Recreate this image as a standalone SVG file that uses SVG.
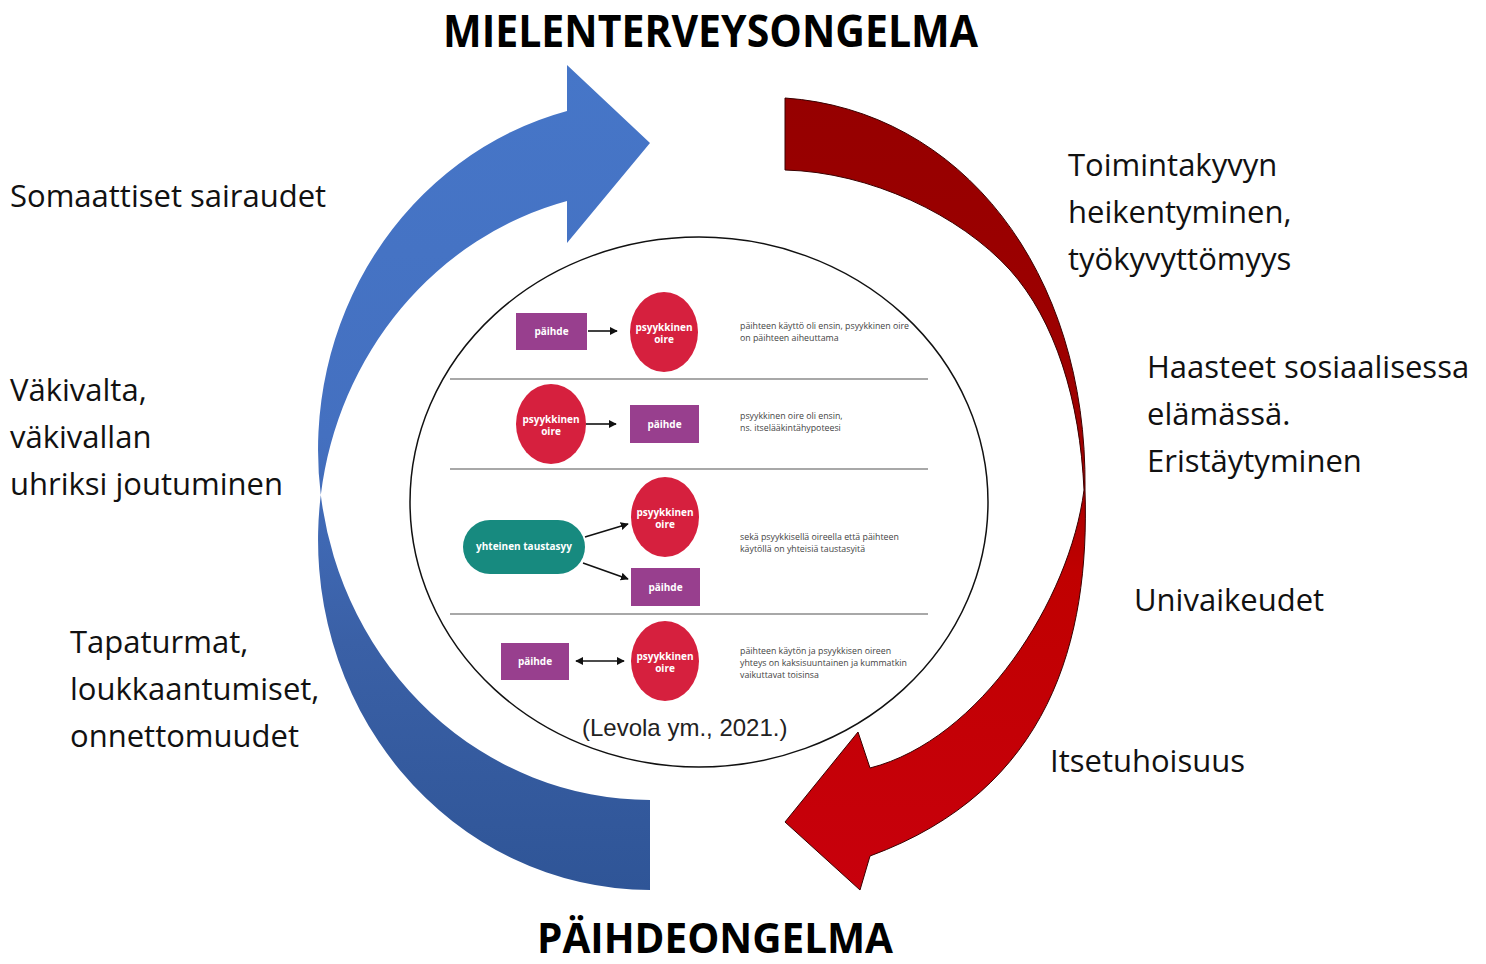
<svg xmlns="http://www.w3.org/2000/svg" width="1486" height="964" viewBox="0 0 1486 964">
<defs>
<linearGradient id="gBlue" gradientUnits="userSpaceOnUse" x1="0" y1="65" x2="0" y2="890">
<stop offset="0" stop-color="#4676c8"/>
<stop offset="0.45" stop-color="#4470c0"/>
<stop offset="0.7" stop-color="#3a60a6"/>
<stop offset="1" stop-color="#2f5597"/>
</linearGradient>
<linearGradient id="gRed" gradientUnits="userSpaceOnUse" x1="0" y1="98" x2="0" y2="890">
<stop offset="0" stop-color="#960000"/>
<stop offset="0.45" stop-color="#a00000"/>
<stop offset="0.6" stop-color="#c00000"/>
<stop offset="1" stop-color="#c8000c"/>
</linearGradient>
<marker id="ah" viewBox="0 0 10 10" refX="9" refY="5" markerWidth="5" markerHeight="5" orient="auto-start-reverse" markerUnits="strokeWidth">
<path d="M0,0 L10,5 L0,10 z" fill="#111"/>
</marker>
<style>
.lbl{font-family:"Open Sans","Noto Sans",sans-serif;font-size:31px;fill:#111;}
.ttl{font-family:"Open Sans","Noto Sans",sans-serif;font-size:44px;font-weight:700;fill:#000;}
.ttl2{font-family:"Open Sans","Noto Sans",sans-serif;font-size:42px;font-weight:700;fill:#000;}
.cite{font-family:"Liberation Sans",Arial,sans-serif;font-size:24px;fill:#222;}
.desc{font-family:"Open Sans","Noto Sans",sans-serif;font-size:8.8px;fill:#444;}
.nt{font-family:"Open Sans","Noto Sans",sans-serif;font-size:10px;font-weight:700;fill:#fff;text-anchor:middle;}
.pur{fill:#983f8e;}
.red{fill:#d6203e;}
.teal{fill:#178a7f;}
.sep{stroke:#a8a8a8;stroke-width:2;}
.cn{stroke:#111;stroke-width:1.6;fill:none;}
</style>
</defs>

<g id="arrow-blue">
<path d="M650,890 A332,350 0 0,1 320.8,495 A332,350 0 0,1 567,111 L567,65 L650,143 L567,243 L567,201 A332,350 0 0,0 320.8,495 A332,350 0 0,0 650,800 Z" fill="url(#gBlue)"/>
</g>
<g id="arrow-red">
<path d="M785,98 C960,110 1088,270 1085,490 C1090,640 1050,790 870,856 L860,890 L785,822 L858,732 L870,768 C980,740 1070,600 1084,490 C1080,400 1055,320 1010,270 C960,215 870,172 785,170 Z" fill="url(#gRed)" stroke="#3a0000" stroke-width="1"/>
</g>

<g id="center-circle">
<ellipse cx="699" cy="502" rx="289" ry="265" fill="#fff" stroke="#111" stroke-width="1.5"/>
<line class="sep" x1="450" y1="379" x2="928" y2="379"/>
<line class="sep" x1="450" y1="469" x2="928" y2="469"/>
<line class="sep" x1="450" y1="614" x2="928" y2="614"/>
</g>

<g id="row1">
<g id="r1-paihde"><rect class="pur" x="516" y="313" width="71" height="37"/><text class="nt" x="551.5" y="335">päihde</text></g>
<g id="r1-oire"><ellipse class="red" cx="664" cy="332" rx="34" ry="40"/><text class="nt" x="664" y="331">psyykkinen</text><text class="nt" x="664" y="343">oire</text></g>
<text class="desc" x="740" y="329">päihteen käyttö oli ensin, psyykkinen oire</text>
<text class="desc" x="740" y="341">on päihteen aiheuttama</text>
</g>
<g id="row2">
<g id="r2-oire"><ellipse class="red" cx="551" cy="424" rx="35" ry="40"/><text class="nt" x="551" y="423">psyykkinen</text><text class="nt" x="551" y="435">oire</text></g>
<g id="r2-paihde"><rect class="pur" x="630" y="405" width="69" height="38"/><text class="nt" x="664.5" y="428">päihde</text></g>
<text class="desc" x="740" y="419">psyykkinen oire oli ensin,</text>
<text class="desc" x="740" y="431">ns. itselääkintähypoteesi</text>
</g>
<g id="row3">
<g id="r3-tausta"><rect class="teal" x="463" y="520" width="122" height="54" rx="27"/><text class="nt" x="524" y="550">yhteinen taustasyy</text></g>
<g id="r3-oire"><ellipse class="red" cx="665" cy="517" rx="34" ry="40"/><text class="nt" x="665" y="516">psyykkinen</text><text class="nt" x="665" y="528">oire</text></g>
<g id="r3-paihde"><rect class="pur" x="631" y="568" width="69" height="38"/><text class="nt" x="665.5" y="591">päihde</text></g>
<text class="desc" x="740" y="540">sekä psyykkisellä oireella että päihteen</text>
<text class="desc" x="740" y="552">käytöllä on yhteisiä taustasyitä</text>
</g>
<g id="row4">
<g id="r4-paihde"><rect class="pur" x="501" y="643" width="68" height="37"/><text class="nt" x="535" y="665">päihde</text></g>
<g id="r4-oire"><ellipse class="red" cx="665" cy="661" rx="34" ry="40"/><text class="nt" x="665" y="660">psyykkinen</text><text class="nt" x="665" y="672">oire</text></g>
<text class="desc" x="740" y="654">päihteen käytön ja psyykkisen oireen</text>
<text class="desc" x="740" y="666">yhteys on kaksisuuntainen ja kummatkin</text>
<text class="desc" x="740" y="678">vaikuttavat toisinsa</text>
</g>

<g id="connectors">
<line class="cn" x1="588" y1="331" x2="617" y2="331" marker-end="url(#ah)"/>
<line class="cn" x1="586" y1="424" x2="616" y2="424" marker-end="url(#ah)"/>
<line class="cn" x1="585" y1="537" x2="628" y2="524" marker-end="url(#ah)"/>
<line class="cn" x1="583" y1="563" x2="628" y2="579" marker-end="url(#ah)"/>
<line class="cn" x1="576" y1="661" x2="624" y2="661" marker-start="url(#ah)" marker-end="url(#ah)"/>
</g>

<g id="citation"><text class="cite" x="582" y="736">(Levola ym., 2021.)</text></g>

<g id="title-top"><text class="ttl" x="443" y="47" textLength="535" lengthAdjust="spacingAndGlyphs">MIELENTERVEYSONGELMA</text></g>
<g id="title-bottom"><text class="ttl2" x="537" y="953" textLength="356" lengthAdjust="spacingAndGlyphs">PÄIHDEONGELMA</text></g>

<g id="label-somaattiset"><text class="lbl" x="10" y="207">Somaattiset sairaudet</text></g>
<g id="label-vakivalta"><text class="lbl" x="10" y="401">Väkivalta,</text><text class="lbl" x="10" y="448">väkivallan</text><text class="lbl" x="10" y="495">uhriksi joutuminen</text></g>
<g id="label-tapaturmat"><text class="lbl" x="70" y="653">Tapaturmat,</text><text class="lbl" x="70" y="700">loukkaantumiset,</text><text class="lbl" x="70" y="747">onnettomuudet</text></g>
<g id="label-toimintakyky"><text class="lbl" x="1068" y="176">Toimintakyvyn</text><text class="lbl" x="1068" y="223">heikentyminen,</text><text class="lbl" x="1068" y="270">työkyvyttömyys</text></g>
<g id="label-haasteet"><text class="lbl" x="1147" y="378">Haasteet sosiaalisessa</text><text class="lbl" x="1147" y="425">elämässä.</text><text class="lbl" x="1147" y="472">Eristäytyminen</text></g>
<g id="label-univaikeudet"><text class="lbl" x="1134" y="611">Univaikeudet</text></g>
<g id="label-itsetuhoisuus"><text class="lbl" x="1050" y="772">Itsetuhoisuus</text></g>
</svg>
